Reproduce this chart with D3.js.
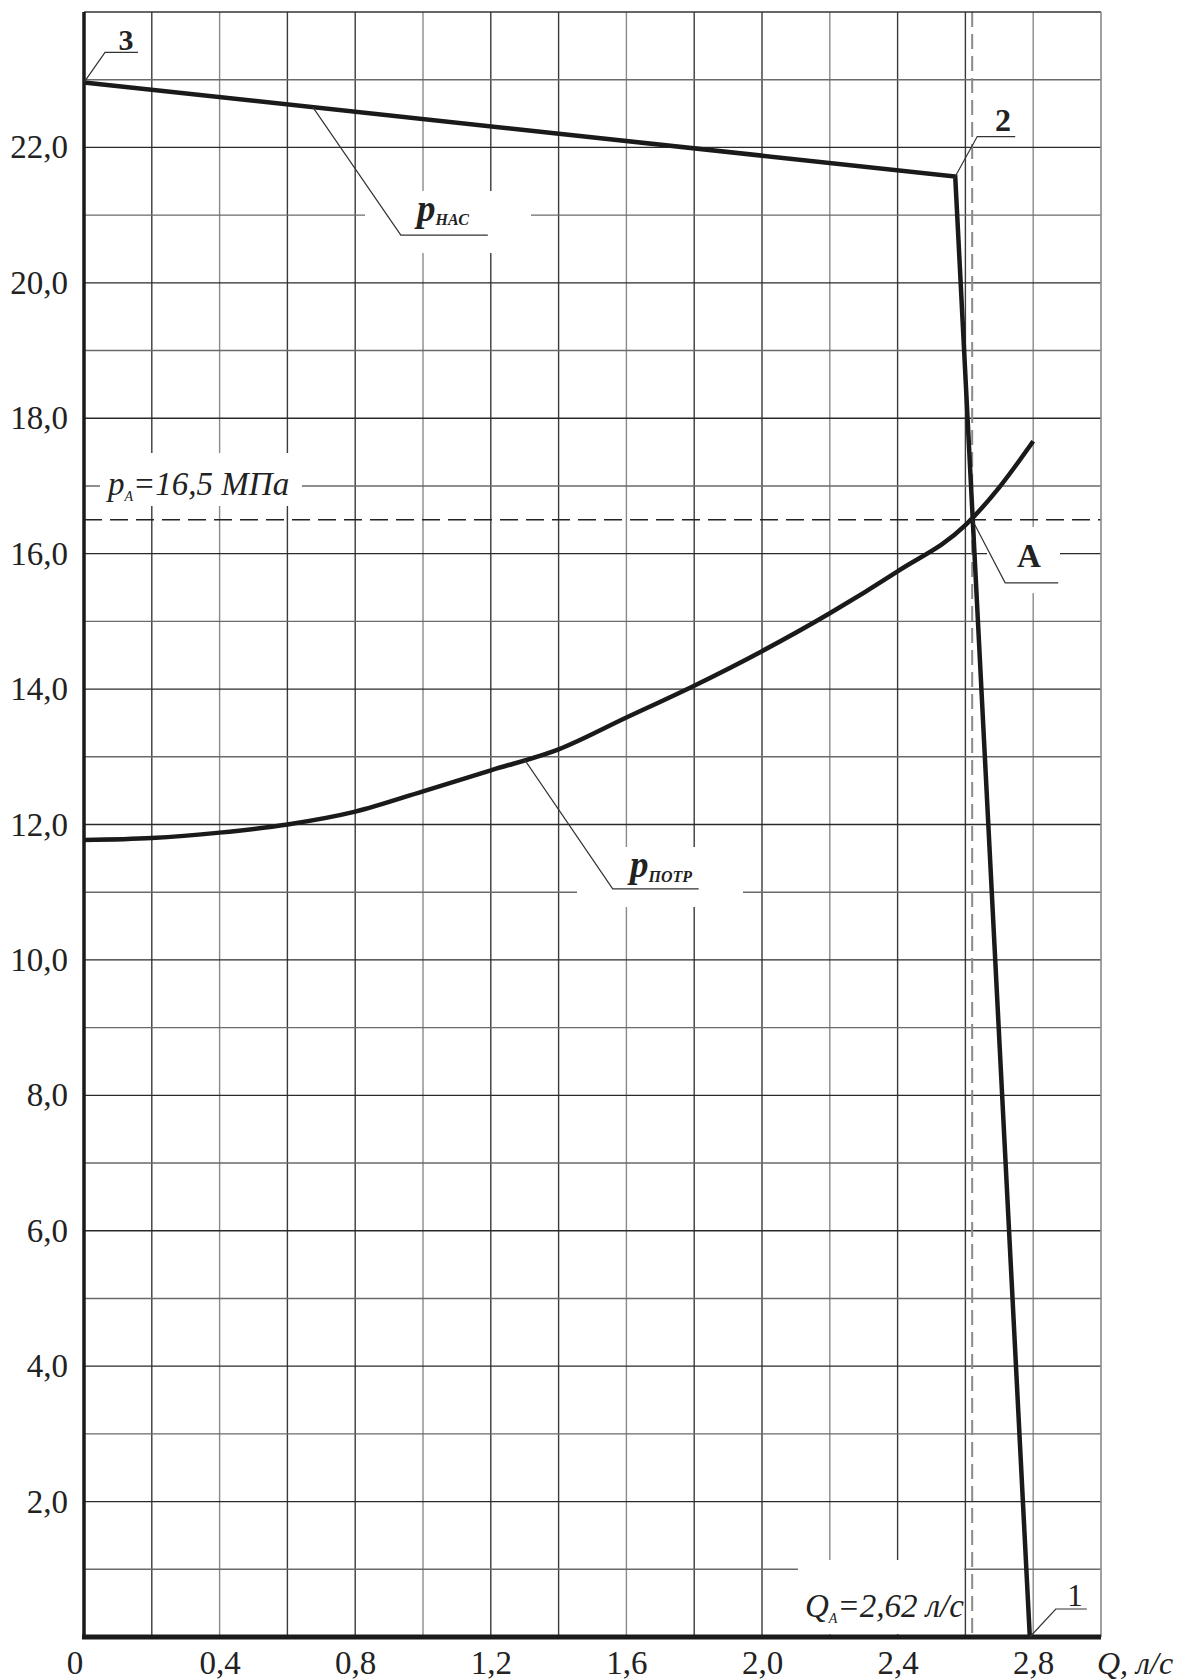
<!DOCTYPE html>
<html>
<head>
<meta charset="utf-8">
<script src="https://cdn.jsdelivr.net/npm/d3@7"></script>
<style>
  body { margin: 0; background: #fff; }
  svg { display: block; }
</style>
</head>
<body>
<div id="chart"></div>
<script>
// pump curve (p нас) : points 3 -> 2 -> 1
var qNas = [0, 2.57, 2.79];
var pNas = [22.96, 21.57, 0];

// pipeline demand curve (p потр)
var qPotr = [0, 0.2, 0.4, 0.6, 0.8, 1.0, 1.2, 1.4, 1.6, 1.8, 2.0, 2.2, 2.4, 2.6, 2.7, 2.8];
var pPotr = [11.77, 11.80, 11.88, 12.00, 12.19, 12.49, 12.80, 13.11, 13.58, 14.05, 14.56, 15.12, 15.74, 16.42, 16.98, 17.66];

// operating point A
var qA = 2.62;
var pA = 16.5;

// ticks
var yTickValues = [2, 4, 6, 8, 10, 12, 14, 16, 18, 20, 22];
var xTickValues = [0.4, 0.8, 1.2, 1.6, 2.0, 2.4, 2.8];

var w = 1181, h = 1680;
var plotLeft = 84, plotRight = 1101, plotTop = 12, plotBottom = 1637;
var serif = "'Liberation Serif', 'Times New Roman', serif";

var svg = d3.select("#chart")
      .append("svg")
      .attr("width", w)
      .attr("height", h);

var x = d3.scaleLinear().domain([0, 3]).range([plotLeft, plotRight]);
var y = d3.scaleLinear().domain([0, 24]).range([plotBottom, plotTop]);

var comma = function(d, n) { return d3.format("." + n + "f")(d).replace(".", ","); };

// grid
svg.append("g")
   .selectAll("line")
   .data(d3.range(1, 15).map(function(i) { return i * 0.2; }))
   .enter()
   .append("line")
   .attr("x1", function(d) { return x(d); })
   .attr("x2", function(d) { return x(d); })
   .attr("y1", plotTop)
   .attr("y2", plotBottom)
   .attr("stroke", function(d, i) { return i % 3 == 1 ? "#8a8a8a" : "#3a3a3a"; })
   .attr("stroke-width", 1.4);

svg.append("g")
   .selectAll("line")
   .data(d3.range(1, 24))
   .enter()
   .append("line")
   .attr("x1", plotLeft)
   .attr("x2", plotRight)
   .attr("y1", function(d) { return y(d); })
   .attr("y2", function(d) { return y(d); })
   .attr("stroke", function(d) { return d % 2 == 1 ? "#6a6a6a" : "#2a2a2a"; })
   .attr("stroke-width", 1.4);

// white boxes behind labels
var boxes = [
  [100, 453, 202, 53],
  [365, 191, 166, 62],
  [577, 847, 166, 60],
  [987, 527, 73, 66],
  [798, 1560, 166, 74]
];
svg.append("g")
   .selectAll("rect")
   .data(boxes)
   .enter()
   .append("rect")
   .attr("x", function(d) { return d[0]; })
   .attr("y", function(d) { return d[1]; })
   .attr("width", function(d) { return d[2]; })
   .attr("height", function(d) { return d[3]; })
   .attr("fill", "#fff");

// dashed lines through A
svg.append("line")
   .attr("x1", x(0)).attr("x2", x(3))
   .attr("y1", y(pA)).attr("y2", y(pA))
   .attr("stroke", "#222")
   .attr("stroke-width", 1.4)
   .attr("stroke-dasharray", "18,8");

svg.append("line")
   .attr("x1", x(qA)).attr("x2", x(qA))
   .attr("y1", plotTop).attr("y2", plotBottom)
   .attr("stroke", "#8a8a8a")
   .attr("stroke-width", 2)
   .attr("stroke-dasharray", "15,7");

// axes
var yAxis = d3.axisLeft(y)
      .tickValues(yTickValues)
      .tickSize(0)
      .tickPadding(16)
      .tickFormat(function(d) { return comma(d, 1); });

svg.append("g")
   .attr("transform", "translate(" + plotLeft + ",0)")
   .call(yAxis)
   .call(function(g) { g.select(".domain").remove(); })
   .selectAll("text")
   .attr("font-family", serif)
   .attr("font-size", "33px")
   .attr("fill", "#222");

var xAxis = d3.axisBottom(x)
      .tickValues(xTickValues)
      .tickSize(0)
      .tickPadding(14)
      .tickFormat(function(d) { return comma(d, 1); });

svg.append("g")
   .attr("transform", "translate(0," + plotBottom + ")")
   .call(xAxis)
   .call(function(g) { g.select(".domain").remove(); })
   .selectAll("text")
   .attr("font-family", serif)
   .attr("font-size", "33px")
   .attr("fill", "#222");

svg.append("text")
   .text("0")
   .attr("x", x(0) - 9)
   .attr("y", 1674)
   .attr("text-anchor", "middle")
   .attr("font-family", serif)
   .attr("font-size", "33px")
   .attr("fill", "#222");

svg.append("text")
   .text("Q, л/с")
   .attr("x", 1097)
   .attr("y", 1674)
   .attr("font-family", serif)
   .attr("font-style", "italic")
   .attr("font-size", "32px")
   .attr("fill", "#222");

// frame: top and right thin, left and bottom thick
svg.append("line")
   .attr("x1", plotLeft).attr("x2", plotRight)
   .attr("y1", plotTop).attr("y2", plotTop)
   .attr("stroke", "#333").attr("stroke-width", 1.4);
svg.append("line")
   .attr("x1", plotRight).attr("x2", plotRight)
   .attr("y1", plotTop).attr("y2", plotBottom)
   .attr("stroke", "#8a8a8a").attr("stroke-width", 1.6);
svg.append("line")
   .attr("x1", plotLeft).attr("x2", plotLeft)
   .attr("y1", plotTop).attr("y2", plotBottom)
   .attr("stroke", "#1a1a1a").attr("stroke-width", 3.5);
svg.append("line")
   .attr("x1", plotLeft - 2).attr("x2", plotRight)
   .attr("y1", plotBottom).attr("y2", plotBottom)
   .attr("stroke", "#1a1a1a").attr("stroke-width", 5);

// curves
var line = d3.line()
      .x(function(d) { return x(d[0]); })
      .y(function(d) { return y(d[1]); });

svg.append("path")
   .datum(d3.zip(qNas, pNas))
   .attr("d", line)
   .attr("fill", "none")
   .attr("stroke", "#1a1a1a")
   .attr("stroke-width", 4.5)
   .attr("stroke-linejoin", "miter");

svg.append("path")
   .datum(d3.zip(qPotr, pPotr))
   .attr("d", line.curve(d3.curveMonotoneX))
   .attr("fill", "none")
   .attr("stroke", "#1a1a1a")
   .attr("stroke-width", 4.5);

// leaders: start on the curve, bend, then horizontal shelf
var leader = function(q, p, dx1, dy1, dx2) {
  var x0 = x(q), y0 = y(p);
  svg.append("polyline")
     .attr("points", [[x0, y0], [x0 + dx1, y0 + dy1], [x0 + dx2, y0 + dy1]].join(" "))
     .attr("fill", "none")
     .attr("stroke", "#333")
     .attr("stroke-width", 1.2);
};

var nasAt = function(q) { return pNas[0] + (pNas[1] - pNas[0]) * q / qNas[1]; };
var potrAt = d3.scaleLinear().domain(qPotr).range(pPotr);

leader(qNas[0], pNas[0], 21, -30, 54);
leader(qNas[1], pNas[1], 22, -40, 60);
leader(qNas[2], pNas[2], 26, -28, 57);
leader(qA, pA, 33, 63, 86);
leader(0.675, nasAt(0.675), 88, 128, 175);
leader(1.3, potrAt(1.3), 88, 129, 174);

// point numbers
var mark = function(t, px, py, size, bold) {
  svg.append("text")
     .text(t)
     .attr("x", px)
     .attr("y", py)
     .attr("text-anchor", "middle")
     .attr("font-family", serif)
     .attr("font-weight", bold ? "bold" : "normal")
     .attr("font-size", size + "px")
     .attr("fill", "#222");
};
mark("3", 126, 50, 30, true);
mark("2", 1003, 131, 32, true);
mark("A", 1029, 567, 33, true);
mark("1", 1075, 1606, 31, false);

// subscripted labels
var subLabel = function(px, py, main, sub, rest, size, subSize, subDy, bold) {
  var t = svg.append("text")
     .attr("x", px)
     .attr("y", py)
     .attr("font-family", serif)
     .attr("font-style", "italic")
     .attr("font-weight", bold ? "bold" : "normal")
     .attr("fill", "#222");
  t.append("tspan").text(main).attr("font-size", size + "px");
  t.append("tspan").text(sub).attr("font-size", subSize + "px").attr("dy", subDy);
  if (rest) t.append("tspan").text(rest).attr("font-size", size + "px").attr("dy", -subDy);
};

subLabel(108, 495, "p", "A", "=16,5 МПа", 33, 14, 6, false);
subLabel(805, 1617, "Q", "A", "=2,62 л/с", 33, 14, 6, false);
subLabel(417, 221, "p", "НАС", null, 37, 16, 4, true);
subLabel(630, 877, "p", "ПОТР", null, 37, 16, 5, true);
</script>
</body>
</html>
